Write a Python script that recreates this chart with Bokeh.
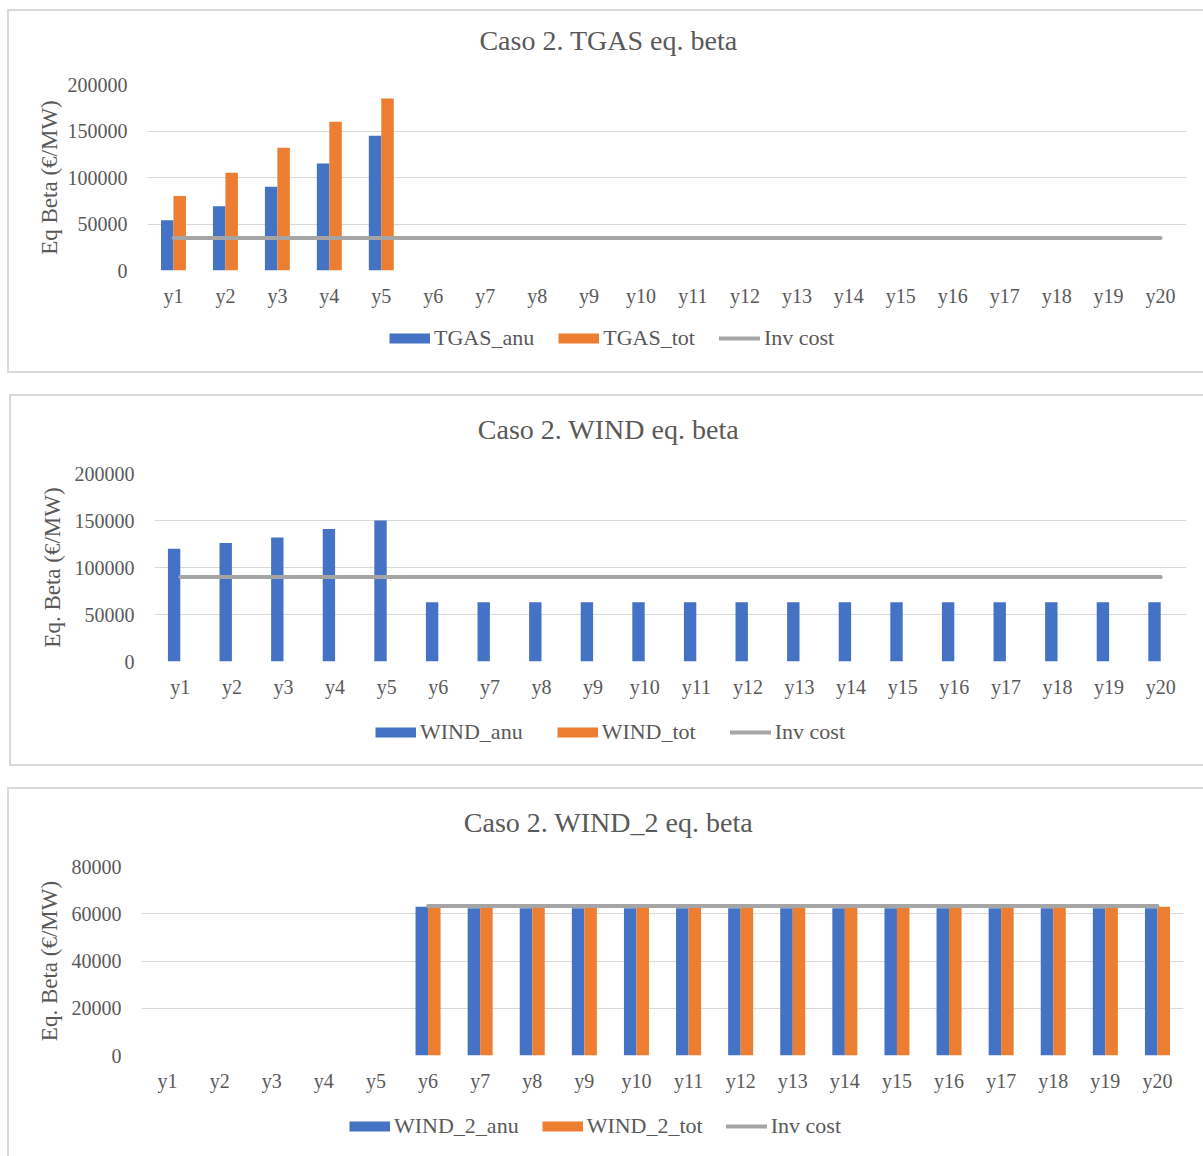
import numpy as np
from bokeh.plotting import figure
from bokeh.models import (ColumnDataSource, FactorRange, Range1d, FixedTicker,
                          BasicTickFormatter, Legend, LegendItem, Label)
from bokeh.layouts import column
from bokeh.transform import dodge
from bokeh.embed import file_html
from bokeh.resources import INLINE

# ---- data -------------------------------------------------------------
years = ["y1", "y2", "y3", "y4", "y5", "y6", "y7", "y8", "y9", "y10",
         "y11", "y12", "y13", "y14", "y15", "y16", "y17", "y18", "y19", "y20"]

tgas_anu = [54000, 69000, 90000, 115000, 145000, 0, 0, 0, 0, 0,
            0, 0, 0, 0, 0, 0, 0, 0, 0, 0]
tgas_tot = [80000, 105000, 132000, 160000, 185000, 0, 0, 0, 0, 0,
            0, 0, 0, 0, 0, 0, 0, 0, 0, 0]
tgas_inv = [35000, 35000, 35000, 35000, 35000, 35000, 35000, 35000, 35000, 35000,
            35000, 35000, 35000, 35000, 35000, 35000, 35000, 35000, 35000, 35000]

wind_anu = [120000, 126000, 132000, 141000, 150000, 63000, 63000, 63000, 63000, 63000,
            63000, 63000, 63000, 63000, 63000, 63000, 63000, 63000, 63000, 63000]
wind_tot = [0, 0, 0, 0, 0, 0, 0, 0, 0, 0,
            0, 0, 0, 0, 0, 0, 0, 0, 0, 0]
wind_inv = [90000, 90000, 90000, 90000, 90000, 90000, 90000, 90000, 90000, 90000,
            90000, 90000, 90000, 90000, 90000, 90000, 90000, 90000, 90000, 90000]

wind2_anu = [0, 0, 0, 0, 0, 63000, 62300, 62300, 62300, 62300,
             62300, 62300, 62300, 62300, 62300, 62300, 62300, 62300, 62300, 62300]
wind2_tot = [0, 0, 0, 0, 0, 63000, 63000, 63000, 63000, 63000,
             63000, 63000, 63000, 63000, 63000, 63000, 63000, 63000, 63000, 63000]
wind2_inv = [None, None, None, None, None, 63300, 63300, 63300, 63300, 63300,
             63300, 63300, 63300, 63300, 63300, 63300, 63300, 63300, 63300, 63300]

ticks_big = [0, 50000, 100000, 150000, 200000]
ticks_small = [0, 20000, 40000, 60000, 80000]

# ---- style --------------------------------------------------------------
BLUE, ORANGE, GREY = "#4472C4", "#ED7D31", "#A5A5A5"
TEXT, GRID = "#595959", "#D9D9D9"
FONT = "Liberation Serif"
PANEL_CX = 608          # horizontal centre of every card (page px)

panels = [
    dict(title="Caso 2. TGAS eq. beta", ylabel="Eq Beta (€/MW)",
         names=("TGAS_anu", "TGAS_tot", "Inv cost"),
         anu=tgas_anu, tot=tgas_tot, inv=tgas_inv, ymax=200000, ticks=ticks_big,
         width=1194, top=11, left=9, heights=(59, 240, 61), b=(138, 17, 14, 40),
         title_cy=40, legend_x=389, legend_cy=339, legend_gap=24, label_gap=3),
    dict(title="Caso 2. WIND eq. beta", ylabel="Eq. Beta (€/MW)",
         names=("WIND_anu", "WIND_tot", "Inv cost"),
         anu=wind_anu, tot=wind_tot, inv=wind_inv, ymax=200000, ticks=ticks_big,
         width=1192, top=25, left=11, heights=(63, 242, 63), b=(143, 17, 14, 40),
         title_cy=429, legend_x=375, legend_cy=733, legend_gap=34, label_gap=7),
    dict(title="Caso 2. WIND_2 eq. beta", ylabel="Eq. Beta (€/MW)",
         names=("WIND_2_anu", "WIND_2_tot", "Inv cost"),
         anu=wind2_anu, tot=wind2_tot, inv=wind2_inv, ymax=80000, ticks=ticks_small,
         width=1194, top=25, left=9, heights=(63, 243, 61), b=(132, 20, 14, 40),
         title_cy=822, legend_x=349, legend_cy=1127, legend_gap=23, label_gap=7),
]


def blank(width, height):
    p = figure(width=width, height=height, x_range=Range1d(0, 1), y_range=Range1d(0, 1),
               x_axis_location=None, y_axis_location=None,
               output_backend="svg", toolbar_location=None, min_border=0)
    p.outline_line_color = None
    p.xgrid.visible = False
    p.ygrid.visible = False
    return p


def frame_left(cfg):
    # the column lines up every frame of a card with the chart's frame
    return cfg["left"] + cfg["b"][0]


def make_title(cfg, top_abs):
    h = cfg["heights"][0]
    p = blank(cfg["width"], h)
    p.add_layout(Label(x=PANEL_CX - frame_left(cfg), y=h - (cfg["title_cy"] - top_abs),
                       x_units="screen", y_units="screen", text=cfg["title"],
                       text_font=FONT, text_font_size="28px", text_color=TEXT,
                       text_align="center", text_baseline="middle"))
    return p


def make_chart(cfg):
    bl, br, bt, bb = cfg["b"]
    p = figure(x_range=FactorRange(factors=years, range_padding=0, factor_padding=0),
               y_range=Range1d(0, cfg["ymax"]),
               width=cfg["width"], height=cfg["heights"][1],
               output_backend="svg", toolbar_location=None,
               min_border_left=bl, min_border_right=br,
               min_border_top=bt, min_border_bottom=bb)
    p.outline_line_color = None

    src = ColumnDataSource(dict(year=years, anu=cfg["anu"], tot=cfg["tot"],
                                inv=np.array(cfg["inv"], dtype=float)))
    p.vbar(x=dodge("year", -0.12, range=p.x_range), top="anu", width=0.24,
           source=src, fill_color=BLUE, line_color=None)
    p.vbar(x=dodge("year", 0.12, range=p.x_range), top="tot", width=0.24,
           source=src, fill_color=ORANGE, line_color=None)
    p.line(x="year", y="inv", source=src, line_color=GREY,
           line_width=4, line_cap="round")

    p.xgrid.grid_line_color = None
    p.ygrid.grid_line_color = GRID
    p.ygrid.grid_line_width = 1
    p.yaxis.ticker = FixedTicker(ticks=cfg["ticks"])
    p.yaxis.formatter = BasicTickFormatter(use_scientific=False)
    for ax in (p.xaxis[0], p.yaxis[0]):
        ax.axis_line_color = None
        ax.major_tick_line_color = None
        ax.minor_tick_line_color = None
        ax.major_tick_in = 0
        ax.major_tick_out = 0
        ax.major_label_text_font = FONT
        ax.major_label_text_font_size = "20px"
        ax.major_label_text_color = TEXT
    p.xaxis.major_label_standoff = 14
    p.yaxis.major_label_standoff = 20
    p.yaxis.axis_label = cfg["ylabel"]
    p.yaxis.axis_label_text_font = FONT
    p.yaxis.axis_label_text_font_size = "23px"
    p.yaxis.axis_label_text_font_style = "normal"
    p.yaxis.axis_label_text_color = TEXT
    p.yaxis.axis_label_standoff = cfg["label_gap"]
    return p


def make_legend(cfg, bottom_abs):
    p = blank(cfg["width"], cfg["heights"][2])
    nan = [np.nan]
    # swatch renderers: styled like the series, nothing to draw in the frame
    sw_anu = p.line(x=nan, y=nan, line_color=BLUE, line_width=10, line_cap="butt")
    sw_tot = p.line(x=nan, y=nan, line_color=ORANGE, line_width=10, line_cap="butt")
    sw_inv = p.line(x=nan, y=nan, line_color=GREY, line_width=4, line_cap="round")
    n_anu, n_tot, n_inv = cfg["names"]
    legend = Legend(items=[LegendItem(label=n_anu, renderers=[sw_anu]),
                           LegendItem(label=n_tot, renderers=[sw_tot]),
                           LegendItem(label=n_inv, renderers=[sw_inv])],
                    location=(cfg["legend_x"] - frame_left(cfg),
                              bottom_abs - (cfg["legend_cy"] + 12)),
                    orientation="horizontal", padding=0, margin=0,
                    spacing=cfg["legend_gap"],
                    label_standoff=4, glyph_width=41, glyph_height=24,
                    border_line_color=None, background_fill_alpha=0,
                    label_text_font=FONT, label_text_font_size="22px",
                    label_text_color=TEXT)
    p.add_layout(legend)
    return p


cards = []
y_cursor = 0
for cfg in panels:
    top_abs = y_cursor + cfg["top"]
    bottom_abs = top_abs + sum(cfg["heights"])
    card = column(make_title(cfg, top_abs), make_chart(cfg), make_legend(cfg, bottom_abs),
                  spacing=0)
    card.margin = (cfg["top"], 0, 0, cfg["left"])
    card.styles = {"box-shadow": "0 0 0 2px " + GRID, "background": "white"}
    cards.append(card)
    y_cursor = bottom_abs

layout = column(*cards, spacing=0)
open("out.html", "w").write(file_html(layout, INLINE, title="Caso 2"))
